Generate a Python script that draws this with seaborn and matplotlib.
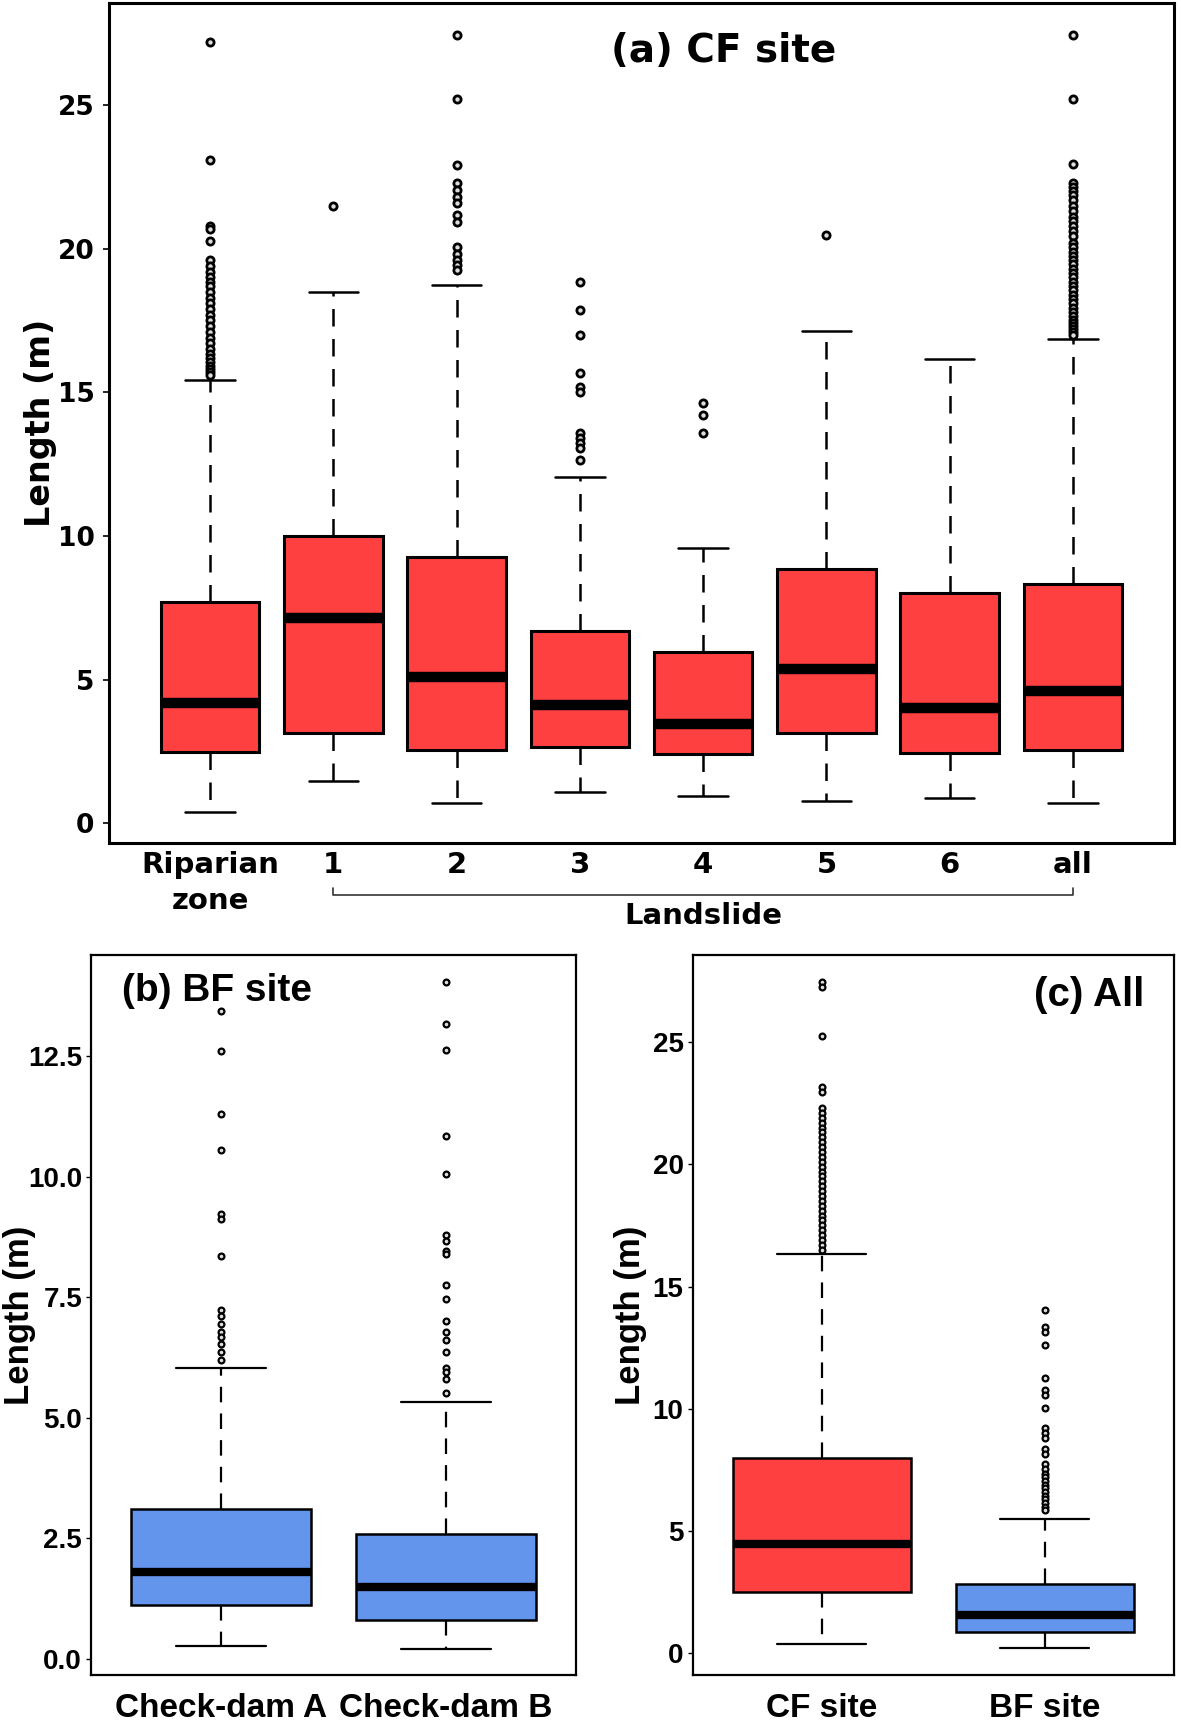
import matplotlib
matplotlib.use("Agg")
import matplotlib.pyplot as plt
import matplotlib.transforms as mtransforms
import seaborn as sns

# panel (a): CF site, riparian zone + landslides
cf_groups = ["Riparian\nzone", "1", "2", "3", "4", "5", "6", "all"]
cf_q1 = [2.48, 3.14, 2.56, 2.67, 2.41, 3.14, 2.44, 2.56]
cf_med = [4.18, 7.14, 5.11, 4.12, 3.45, 5.36, 4.01, 4.61]
cf_q3 = [7.72, 10.0, 9.26, 6.71, 5.95, 8.85, 8.01, 8.33]
cf_lo = [0.40, 1.48, 0.70, 1.08, 0.96, 0.78, 0.88, 0.70]
cf_hi = [15.43, 18.48, 18.75, 12.06, 9.59, 17.14, 16.16, 16.86]
cf_fliers = [
    [27.2, 23.1, 20.8, 20.7, 20.25, 19.6, 19.4, 19.2, 19.0, 18.85, 18.7, 18.5,
     18.3, 18.1, 17.9, 17.7, 17.5, 17.3, 17.1, 16.9, 16.7, 16.5, 16.35, 16.2,
     16.05, 15.9, 15.8, 15.7, 15.6],
    [21.48],
    [27.45, 25.22, 22.9, 22.27, 22.04, 21.8, 21.6, 21.17, 20.94, 20.06, 19.83,
     19.6, 19.43, 19.25],
    [18.85, 17.86, 17.01, 15.69, 15.19, 15.02, 13.57, 13.4, 13.22, 13.05, 12.64],
    [14.62, 14.21, 13.57],
    [20.49],
    [],
    [27.45, 25.22, 22.93, 22.3, 22.15, 22.0, 21.85, 21.7, 21.5, 21.3, 21.1,
     20.95, 20.8, 20.6, 20.45, 20.2, 20.05, 19.9, 19.75, 19.6, 19.45, 19.3,
     19.15, 19.0, 18.85, 18.7, 18.55, 18.4, 18.25, 18.1, 17.95, 17.8, 17.65,
     17.5, 17.4, 17.3, 17.2, 17.1, 17.0],
]

# panel (b): BF site check dams
bf_groups = ["Check-dam A", "Check-dam B"]
bf_q1 = [1.12, 0.80]
bf_med = [1.80, 1.48]
bf_q3 = [3.11, 2.59]
bf_lo = [0.26, 0.21]
bf_hi = [6.04, 5.33]
bf_fliers = [
    [13.43, 12.61, 11.30, 10.56, 9.23, 9.12, 8.36, 7.23, 7.10, 6.94, 6.78,
     6.68, 6.52, 6.36, 6.20],
    [14.04, 13.16, 12.63, 10.84, 10.05, 8.79, 8.66, 8.45, 8.39, 7.75, 7.46,
     7.01, 6.78, 6.62, 6.36, 6.04, 5.94, 5.81, 5.52],
]

# panel (c): both sites
all_groups = ["CF site", "BF site"]
all_q1 = [2.51, 0.89]
all_med = [4.47, 1.58]
all_q3 = [8.0, 2.83]
all_lo = [0.37, 0.21]
all_hi = [16.31, 5.51]
all_fliers = [
    [27.43, 27.24, 25.25, 23.17, 22.96, 22.3, 22.1, 21.9, 21.7, 21.5, 21.3,
     21.1, 20.9, 20.7, 20.5, 20.3, 20.1, 19.9, 19.7, 19.5, 19.3, 19.1, 18.9,
     18.7, 18.5, 18.3, 18.1, 17.9, 17.7, 17.5, 17.3, 17.1, 16.9, 16.7, 16.5],
    [14.03, 13.36, 13.15, 12.59, 11.28, 10.76, 10.56, 10.04, 9.21, 9.0, 8.79,
     8.37, 8.17, 7.75, 7.54, 7.34, 7.2, 7.05, 6.9, 6.75, 6.6, 6.45, 6.3, 6.15,
     6.0, 5.88],
]

RED = "#FF4040"
BLUE = "#6495ED"

sns.set_style("ticks")
plt.rcParams["font.family"] = ["DejaVu Sans"]
plt.rcParams["text.color"] = "black"
plt.rcParams["axes.labelcolor"] = "black"
plt.rcParams["xtick.color"] = "black"
plt.rcParams["ytick.color"] = "black"


def make_stats(q1, med, q3, lo, hi, fliers):
    return [dict(q1=a, med=b, q3=c, whislo=d, whishi=e, fliers=f)
            for a, b, c, d, e, f in zip(q1, med, q3, lo, hi, fliers)]


def draw(ax, stats, colors, lw_box, lw_med, lw_wh, ms, mew):
    n = len(stats)
    bp = ax.bxp(stats, positions=range(1, n + 1), widths=0.8, capwidths=0.4,
                patch_artist=True, showfliers=True,
                boxprops=dict(edgecolor="black", linewidth=lw_box),
                medianprops=dict(color="black", linewidth=lw_med,
                                 solid_capstyle="butt"),
                whiskerprops=dict(color="black", linewidth=lw_wh,
                                  linestyle=(0, (7, 5))),
                capprops=dict(color="black", linewidth=lw_wh),
                flierprops=dict(marker="o", markersize=ms, markeredgewidth=mew,
                                markeredgecolor="black", markerfacecolor="#dddddd"))
    for patch, c in zip(bp["boxes"], colors):
        patch.set_facecolor(c)
    pad = 0.04 * n
    ax.set_xlim(0.5 - pad, n + 0.5 + pad)
    return bp


fig = plt.figure(figsize=(11.81, 17.27), dpi=100)
ax_a = fig.add_axes([0.0923, 0.5119, 0.9018, 0.4864])
ax_b = fig.add_axes([0.0771, 0.0301, 0.4106, 0.4169])
ax_c = fig.add_axes([0.5864, 0.0301, 0.4077, 0.4169])

# ---- (a)
draw(ax_a, make_stats(cf_q1, cf_med, cf_q3, cf_lo, cf_hi, cf_fliers),
     [RED] * len(cf_groups), 2.2, 7.5, 1.8, 5.2, 2.0)
ax_a.set_ylim(-0.68, 28.55)
ax_a.set_yticks([0, 5, 10, 15, 20, 25])
ax_a.set_xticks(range(1, len(cf_groups) + 1))
ax_a.set_xticklabels(cf_groups, fontsize=21, fontweight="bold",
                     linespacing=1.35)
ax_a.tick_params(axis="x", length=0, pad=6)
ax_a.tick_params(axis="y", length=4.5, width=1.2, pad=6, labelsize=19)
for lab in ax_a.get_yticklabels():
    lab.set_fontweight("bold")
for sp in ax_a.spines.values():
    sp.set_linewidth(2.2)
    sp.set_color("black")
ax_a.set_ylabel("Length (m)", fontsize=24, fontweight="bold")
ax_a.yaxis.set_label_coords(-0.049, 0.5)
ax_a.text(0.471, 0.930, "(a) CF site", transform=ax_a.transAxes,
          fontsize=28, fontweight="bold", ha="left", va="baseline")
# bracket under the landslide groups
trans = mtransforms.blended_transform_factory(ax_a.transData, ax_a.transAxes)
x0, x1 = 2, len(cf_groups)
ax_a.plot([x0, x0, x1, x1], [-0.054, -0.062, -0.062, -0.054], color="#333333",
          lw=1.2, transform=trans, clip_on=False)
ax_a.text((x0 + x1) / 2, -0.087, "Landslide", transform=trans, fontsize=21,
          fontweight="bold", ha="center", va="center")

# ---- (b) and (c) use an Arial-like face
lib = ["Liberation Sans", "DejaVu Sans"]

draw(ax_b, make_stats(bf_q1, bf_med, bf_q3, bf_lo, bf_hi, bf_fliers),
     [BLUE, BLUE], 1.8, 6, 1.6, 4.2, 1.6)
ax_b.set_ylim(-0.34, 14.6)
ax_b.set_yticks([0, 2.5, 5, 7.5, 10, 12.5])
ax_b.set_yticklabels(["0.0", "2.5", "5.0", "7.5", "10.0", "12.5"])
ax_b.set_xticks([1, 2])
ax_b.set_xticklabels(bf_groups)
ax_b.text(0.063, 0.936, "(b) BF site", transform=ax_b.transAxes,
          fontsize=28, fontweight="bold", ha="left", va="baseline", family=lib)
ax_b.set_ylabel("Length (m)", fontsize=25, fontweight="bold", family=lib)
ax_b.yaxis.set_label_coords(-0.113, 0.5)

draw(ax_c, make_stats(all_q1, all_med, all_q3, all_lo, all_hi, all_fliers),
     [RED, BLUE], 1.8, 6, 1.6, 4.2, 1.6)
ax_c.set_ylim(-0.88, 28.55)
ax_c.set_yticks([0, 5, 10, 15, 20, 25])
ax_c.set_xticks([1, 2])
ax_c.set_xticklabels(all_groups)
ax_c.text(0.939, 0.929, "(c) All", transform=ax_c.transAxes,
          fontsize=29, fontweight="bold", ha="right", va="baseline", family=lib)
ax_c.set_ylabel("Length (m)", fontsize=25, fontweight="bold", family=lib)
ax_c.yaxis.set_label_coords(-0.095, 0.5)

for ax in (ax_b, ax_c):
    ax.tick_params(axis="x", length=0, pad=13)
    ax.tick_params(axis="y", length=3.5, width=1.0, pad=3)
    for lab in ax.get_xticklabels():
        lab.set_fontsize(24)
        lab.set_fontweight("bold")
        lab.set_family(lib)
    for lab in ax.get_yticklabels():
        lab.set_fontsize(20)
        lab.set_fontweight("bold")
        lab.set_family(lib)
    for sp in ax.spines.values():
        sp.set_linewidth(1.6)
        sp.set_color("black")

fig.savefig("out.png", dpi=100, facecolor="white")
